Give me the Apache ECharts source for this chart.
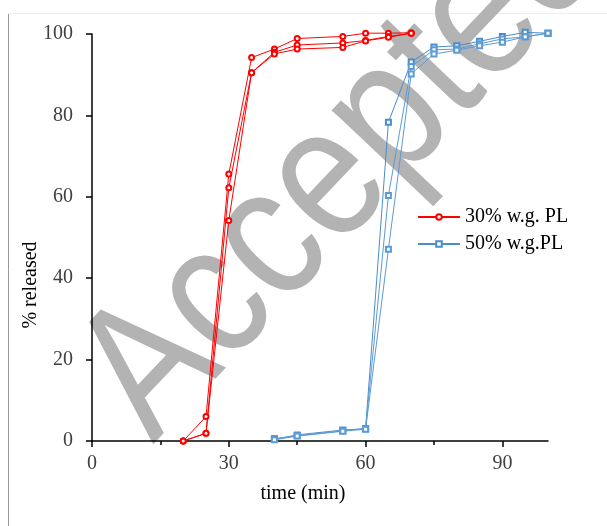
<!DOCTYPE html>
<html>
<head>
<meta charset="utf-8">
<title>% released vs time</title>
<script src="https://cdn.jsdelivr.net/npm/echarts@6.0.0/dist/echarts.min.js"></script>
<style>
    html, body { margin: 0; padding: 0; background: #fff; }
    #chart { width: 607px; height: 526px; }
</style>
</head>
<body>
<div id="chart"></div>
<script>
// time points (min)
var timeRed = [20, 25, 30, 35, 40, 45, 55, 60, 65, 70];
var timeBlue = [40, 45, 55, 60, 65, 70, 75, 80, 85, 90, 95, 100];

// 30% w.g. PL replicates
var red1 = [0, 6.0, 65.6, 94.2, 96.3, 98.9, 99.4, 100.2, 100.2, 100.3];
var red2 = [0, 1.9, 62.2, 90.5, 95.5, 97.3, 97.8, 98.4, 99.4, 100.2];
var red3 = [0, 1.9, 54.2, 90.5, 95.1, 96.3, 96.7, 98.3, 99.2, 100.2];

// 50% w.g.PL replicates
var blue1 = [0.4, 1.5, 2.7, 3.0, 78.3, 93.1, 96.8, 97.1, 98.2, 99.4, 100.4, 100.2];
var blue2 = [0.6, 1.3, 2.5, 3.1, 60.3, 92.0, 96.1, 96.3, 97.6, 98.8, 99.3, 100.2];
var blue3 = [0.3, 1.2, 2.4, 2.9, 47.1, 90.2, 95.1, 96.0, 97.1, 98.0, 99.3, 100.2];

var xMajorTicks = [0, 30, 60, 90];
var xMinorTicks = [15, 45, 75];

var nameRed = "30% w.g. PL";
var nameBlue = "50% w.g.PL";

var serifFont = "'Liberation Serif', 'Times New Roman', serif";

function pairs(xs, ys) {
    var out = [];
    for (var i = 0; i < xs.length; i++) {
        out.push([xs[i], ys[i]]);
    }
    return out;
}

function lineSeries(name, xs, ys, color, symbol) {
    return {
        name: name,
        type: "line",
        data: pairs(xs, ys),
        symbol: symbol,
        symbolSize: 5,
        showSymbol: true,
        clip: false,
        z: 3,
        lineStyle: { color: color, width: 1 },
        itemStyle: { color: color, borderColor: color, borderWidth: 1 },
        emphasis: { disabled: true }
    };
}

var chart = echarts.init(document.getElementById("chart"));

chart.setOption({
    animation: false,
    backgroundColor: "#fff",
    grid: { left: 92, right: 59, top: 34, bottom: 85, containLabel: false },
    legend: {
        data: [nameRed, nameBlue],
        orient: "vertical",
        left: 412,
        top: 202,
        itemWidth: 42,
        itemHeight: 7,
        itemGap: 7,
        selectedMode: false,
        textStyle: { fontFamily: serifFont, fontSize: 20, color: "#000" }
    },
    xAxis: [{
        type: "value",
        min: 0,
        max: 100,
        interval: 10,
        axisLine: { lineStyle: { color: "#000", width: 1.5 } },
        axisTick: { customValues: xMajorTicks, length: 6, lineStyle: { color: "#000", width: 1.5 } },
        axisLabel: { customValues: xMajorTicks, margin: 13, fontFamily: serifFont, fontSize: 20, color: "#404040" },
        splitLine: { show: false }
    }, {
        type: "value",
        min: 0,
        max: 100,
        position: "bottom",
        axisLine: { show: false },
        axisTick: { customValues: xMinorTicks, length: 4, lineStyle: { color: "#000", width: 1.5 } },
        axisLabel: { show: false },
        splitLine: { show: false }
    }],
    yAxis: {
        type: "value",
        min: 0,
        max: 100,
        interval: 20,
        axisLine: { show: true, lineStyle: { color: "#000", width: 1.5 } },
        axisTick: { show: true, length: 6, lineStyle: { color: "#000", width: 1.5 } },
        axisLabel: { margin: 19, fontFamily: serifFont, fontSize: 20, color: "#404040" },
        splitLine: { show: false }
    },
    graphic: {
        elements: [
            // watermark, a little narrowed along its baseline
            {
                type: "text",
                z: -10,
                x: 344,
                y: 167,
                rotation: 46.5 * Math.PI / 180,
                scaleX: 0.84,
                silent: true,
                style: {
                    text: "Accepted",
                    fontFamily: "'Liberation Sans', Arial, sans-serif",
                    fontSize: 190,
                    fill: "#b3b3b3",
                    align: "center",
                    verticalAlign: "middle"
                }
            },
            // page frame
            {
                type: "line",
                z: -20,
                shape: { x1: 8.5, y1: 13, x2: 8.5, y2: 526 },
                style: { stroke: "#999", lineWidth: 1 }
            },
            {
                type: "line",
                z: -20,
                shape: { x1: 8, y1: 13.5, x2: 607, y2: 13.5 },
                style: { stroke: "#eee", lineWidth: 1 }
            },
            // axis titles
            {
                type: "text",
                x: 31,
                y: 285,
                rotation: Math.PI / 2,
                style: {
                    text: "% released",
                    fontFamily: serifFont,
                    fontSize: 20,
                    fill: "#000",
                    align: "center",
                    verticalAlign: "middle"
                }
            },
            {
                type: "text",
                x: 303,
                y: 494,
                style: {
                    text: "time (min)",
                    fontFamily: serifFont,
                    fontSize: 20,
                    fill: "#000",
                    align: "center",
                    verticalAlign: "middle"
                }
            }
        ]
    },
    series: [
        lineSeries(nameRed, timeRed, red1, "#ff0000", "emptyCircle"),
        lineSeries(nameRed, timeRed, red2, "#ff0000", "emptyCircle"),
        lineSeries(nameRed, timeRed, red3, "#ff0000", "emptyCircle"),
        lineSeries(nameBlue, timeBlue, blue1, "#4a8ccc", "emptyRect"),
        lineSeries(nameBlue, timeBlue, blue2, "#5b9bd5", "emptyRect"),
        lineSeries(nameBlue, timeBlue, blue3, "#5b9bd5", "emptyRect")
    ]
});
</script>
</body>
</html>
